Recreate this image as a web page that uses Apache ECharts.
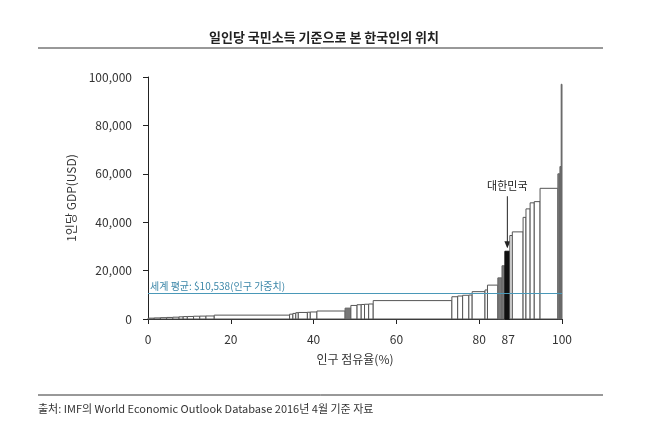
<!DOCTYPE html>
<html>
<head>
<meta charset="utf-8">
<script src="https://cdn.jsdelivr.net/npm/echarts@6/dist/echarts.min.js"></script>
<style>body{margin:0;background:#fff}#chart{width:648px;height:432px}</style>
</head>
<body>
<div id="chart"></div>
<script>
// 인구 점유율(%) 폭, 1인당 GDP
var shares = [1.5,1.5,1.5,1.5,1.5,1,1,1.5,1.5,1.5,2,18.2,0.8,0.7,0.6,2.2,0.7,1.6,6.8,1.4,1.5,1,0.8,1,1.1,19,1.4,1.2,1.5,0.8,3.1,0.6,2.5,1,0.7,1.2,0.6,2.6,0.7,1,1,1.4,4.3,0.5,0.3,0.2];
var gdp = [350,450,550,650,750,900,1000,1050,1150,1200,1250,1600,2000,2300,2600,2700,2800,2900,3300,4500,5600,5900,6000,6100,6200,7600,9200,9500,9800,9900,11300,12000,14000,17000,22000,28000,34500,36000,42000,45500,48000,48500,54000,60000,63000,97000];
var greyIdx = [19,33,34,43,44,45];
var koreaIdx = 35;
var worldAvg = 10538;
var xTicks = [0,20,40,60,80,87,100];

var rects = [], acc = 0;
for (var i = 0; i < shares.length; i++) {
    rects.push([acc, acc + shares[i], gdp[i], i]);
    acc += shares[i];
}

var chart = echarts.init(document.getElementById('chart'));
chart.setOption({
    animation: false,
    textStyle: {fontFamily: 'Noto Sans CJK KR'},
    title: {text: '일인당 국민소득 기준으로 본 한국인의 위치', left: 'center', top: 26,
        textStyle: {fontSize: 13, fontWeight: 'bold', color: '#222'}},
    grid: {left: 148, right: 86, top: 77, bottom: 113},
    xAxis: {type: 'value', min: 0, max: 100, offset: 6,
        name: '인구 점유율(%)', nameLocation: 'middle', nameGap: 28,
        nameTextStyle: {fontSize: 12, color: '#333'},
        axisLine: {lineStyle: {color: '#222'}},
        axisTick: {customValues: [0,20,40,60,80,100], length: 5, lineStyle: {color: '#222'}},
        axisLabel: {customValues: xTicks, color: '#333', fontSize: 12},
        splitLine: {show: false}},
    yAxis: {type: 'value', min: 0, max: 100000, interval: 20000, offset: 8,
        name: '1인당 GDP(USD)', nameLocation: 'middle', nameGap: 52,
        nameTextStyle: {fontSize: 12, color: '#333'},
        axisLine: {show: true, lineStyle: {color: '#222'}},
        axisTick: {show: true, length: 5, lineStyle: {color: '#222'}},
        axisLabel: {color: '#333', fontSize: 12},
        splitLine: {show: false}},
    graphic: [
        {type: 'line', shape: {x1: 38, y1: 48, x2: 603, y2: 48}, style: {stroke: '#333', lineWidth: 1}},
        {type: 'line', shape: {x1: 38, y1: 395, x2: 603, y2: 395}, style: {stroke: '#333', lineWidth: 1}},
        {type: 'text', left: 38, top: 403, style: {text: '출처: IMF의 World Economic Outlook Database 2016년 4월 기준 자료',
            fontSize: 11, fill: '#333', fontFamily: 'Noto Sans CJK KR'}}
    ],
    series: [{
        type: 'custom',
        data: rects,
        encode: {x: [0, 1], y: 2},
        renderItem: function (params, api) {
            var p0 = api.coord([api.value(0), api.value(2)]);
            var p1 = api.coord([api.value(1), 0]);
            var idx = api.value(3);
            var fill = '#fff', stroke = '#555';
            if (idx === koreaIdx) { fill = '#111'; stroke = '#111'; }
            else if (greyIdx.indexOf(idx) >= 0) { fill = '#777'; stroke = '#666'; }
            return {type: 'rect', shape: {x: p0[0], y: p0[1], width: p1[0] - p0[0], height: p1[1] - p0[1]},
                style: {fill: fill, stroke: stroke, lineWidth: 1}};
        },
        markLine: {silent: true, symbol: 'none',
            lineStyle: {color: '#4a98b8', width: 1.2, type: 'solid'},
            label: {position: 'insideStartTop', formatter: '세계 평균: $10,538(인구 가중치)',
                color: '#3b86a8', fontSize: 10, distance: 2},
            data: [{yAxis: worldAvg}]}
    }]
});

var tip = chart.convertToPixel({gridIndex: 0}, [86.8, 28000]);
chart.setOption({graphic: [
    {type: 'line', shape: {x1: 38, y1: 48, x2: 603, y2: 48}, style: {stroke: '#333', lineWidth: 1}},
    {type: 'line', shape: {x1: 38, y1: 395, x2: 603, y2: 395}, style: {stroke: '#333', lineWidth: 1}},
    {type: 'text', left: 38, top: 403, style: {text: '출처: IMF의 World Economic Outlook Database 2016년 4월 기준 자료',
        fontSize: 11, fill: '#333', fontFamily: 'Noto Sans CJK KR'}},
    {type: 'text', x: tip[0], y: tip[1] - 60, style: {text: '대한민국', fontSize: 11, fill: '#222',
        align: 'center', verticalAlign: 'bottom', fontFamily: 'Noto Sans CJK KR'}},
    {type: 'line', shape: {x1: tip[0], y1: tip[1] - 55, x2: tip[0], y2: tip[1] - 4}, style: {stroke: '#222', lineWidth: 1}},
    {type: 'polygon', shape: {points: [[tip[0] - 3, tip[1] - 10], [tip[0] + 3, tip[1] - 10], [tip[0], tip[1] - 3]]}, style: {fill: '#222'}}
]});
</script>
</body>
</html>
